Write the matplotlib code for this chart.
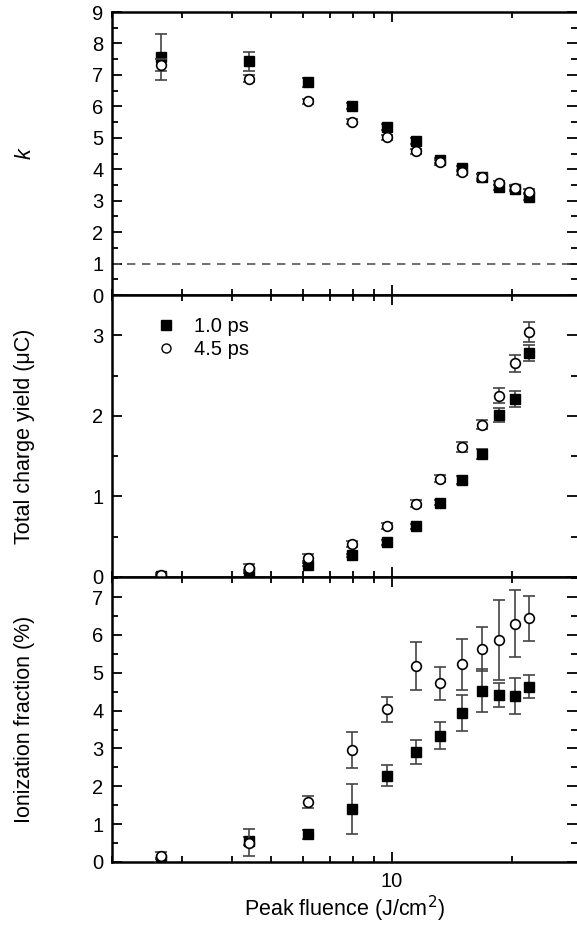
import numpy as np
import matplotlib
matplotlib.use("Agg")
import matplotlib.pyplot as plt
from matplotlib.lines import Line2D
from matplotlib.ticker import MultipleLocator, FixedLocator, NullFormatter, FixedFormatter

plt.rcParams['font.family'] = ['Liberation Sans', 'DejaVu Sans']
plt.rcParams['font.size'] = 14.5

# Peak fluence (J/cm^2)
fluence = [2.65, 4.40, 6.18, 7.95, 9.72, 11.47, 13.2, 14.96, 16.77, 18.5, 20.3, 21.96]

# k
k_10 = [7.56, 7.44, 6.76, 6.01, 5.35, 4.89, 4.29, 4.03, 3.74, 3.42, 3.38, 3.13]
k_10_err = [0.73, 0.30, 0.15, 0.10, 0.10, 0.10, 0.08, 0.08, 0.10, 0.08, 0.08, 0.12]
k_45 = [7.32, 6.88, 6.17, 5.51, 5.02, 4.57, 4.22, 3.91, 3.76, 3.57, 3.41, 3.29]
k_45_err = [0.20, 0.12, 0.08, 0.08, 0.08, 0.08, 0.08, 0.08, 0.08, 0.06, 0.08, 0.08]

# Total charge yield (uC)
q_10 = [0.01, 0.066, 0.15, 0.27, 0.43, 0.63, 0.92, 1.20, 1.53, 2.01, 2.21, 2.78]
q_10_err = [0.02, 0.02, 0.02, 0.02, 0.03, 0.03, 0.03, 0.05, 0.06, 0.09, 0.10, 0.10]
q_45 = [0.025, 0.115, 0.24, 0.41, 0.63, 0.91, 1.22, 1.61, 1.89, 2.25, 2.65, 3.04]
q_45_err = [0.03, 0.04, 0.04, 0.04, 0.04, 0.04, 0.04, 0.06, 0.06, 0.09, 0.11, 0.12]

# Ionization fraction (%)
ion_10 = [0.05, 0.55, 0.73, 1.40, 2.28, 2.91, 3.34, 3.94, 4.52, 4.41, 4.38, 4.63]
ion_10_err = [0.05, 0.10, 0.12, 0.67, 0.27, 0.32, 0.35, 0.47, 0.57, 0.32, 0.47, 0.31]
ion_45 = [0.17, 0.51, 1.59, 2.96, 4.03, 5.17, 4.72, 5.22, 5.63, 5.86, 6.30, 6.44]
ion_45_err = [0.10, 0.36, 0.16, 0.47, 0.33, 0.63, 0.43, 0.67, 0.59, 1.05, 0.88, 0.60]

fig = plt.figure(figsize=(5.77, 9.33), dpi=100)
left, width = 0.194, 0.806
ax1 = fig.add_axes([left, 0.6838, width, 0.3033])
ax2 = fig.add_axes([left, 0.3816, width, 0.3023], sharex=ax1)
ax3 = fig.add_axes([left, 0.0761, width, 0.3055], sharex=ax1)

def draw(ax, y1, e1, y2, e2):
    ax.errorbar(fluence, y1, yerr=e1, fmt='s', color='black', ms=6.5, mfc='black',
                mec='black', ecolor='#444444', elinewidth=1.2, capsize=4, capthick=1.2,
                zorder=3)
    ax.errorbar(fluence, y2, yerr=e2, fmt='o', color='black', ms=7, mfc='white',
                mec='black', mew=1.2, ecolor='#444444', elinewidth=1.2, capsize=4,
                capthick=1.2, zorder=4)

draw(ax1, k_10, k_10_err, k_45, k_45_err)
draw(ax2, q_10, q_10_err, q_45, q_45_err)
draw(ax3, ion_10, ion_10_err, ion_45, ion_45_err)

ax1.axhline(1, color='#555555', ls=(0, (5, 4)), lw=1.2)

ax1.set_xscale('log')
ax1.set_xlim(2.0, 29)

ax1.set_ylim(0, 9)
ax1.yaxis.set_major_locator(MultipleLocator(1))
ax1.yaxis.set_minor_locator(MultipleLocator(0.5))
ax2.set_ylim(0, 3.5)
ax2.yaxis.set_major_locator(FixedLocator([0, 1, 2, 3]))
ax2.yaxis.set_minor_locator(MultipleLocator(0.5))
ax3.set_ylim(0, 7.53)
ax3.yaxis.set_major_locator(MultipleLocator(1))
ax3.yaxis.set_minor_locator(MultipleLocator(0.5))

for ax in (ax1, ax2, ax3):
    ax.xaxis.set_major_locator(FixedLocator([10]))
    ax.xaxis.set_minor_locator(FixedLocator([2, 3, 4, 5, 6, 7, 8, 9, 20]))
    ax.xaxis.set_minor_formatter(NullFormatter())
    ax.tick_params(which='both', direction='in', top=True, right=True, width=1.3)
    ax.tick_params(which='major', length=7)
    ax.tick_params(which='minor', length=4)
    ax.tick_params(axis='y', pad=6)
    for s in ax.spines.values():
        s.set_linewidth(1.8)
    ax.spines['right'].set_visible(False)

ax1.tick_params(labelbottom=False)
ax2.tick_params(labelbottom=False)
ax3.xaxis.set_major_formatter(FixedFormatter(['10']))
ax3.tick_params(axis='x', pad=7)

ax1.set_ylabel('k', style='italic', fontsize=15.5)
ax2.set_ylabel('Total charge yield (μC)', fontsize=15.5)
ax3.set_ylabel('Ionization fraction (%)', fontsize=15.5)
for ax in (ax1, ax2, ax3):
    ax.yaxis.set_label_coords(-0.165, 0.5)
ax3.set_xlabel('Peak fluence (J/cm$^2$)', fontsize=15.5, labelpad=2)

handles = [Line2D([], [], ls='none', marker='s', ms=6.5, mfc='black', mec='black'),
           Line2D([], [], ls='none', marker='o', ms=6.5, mfc='white', mec='black', mew=1.0)]
ax2.legend(handles, ['1.0 ps', '4.5 ps'], loc='upper left', bbox_to_anchor=(0.055, 0.985),
           frameon=False, handletextpad=0.9, labelspacing=0.2, handlelength=1.0,
           fontsize=14.5)

fig.savefig('out.png', dpi=100)
